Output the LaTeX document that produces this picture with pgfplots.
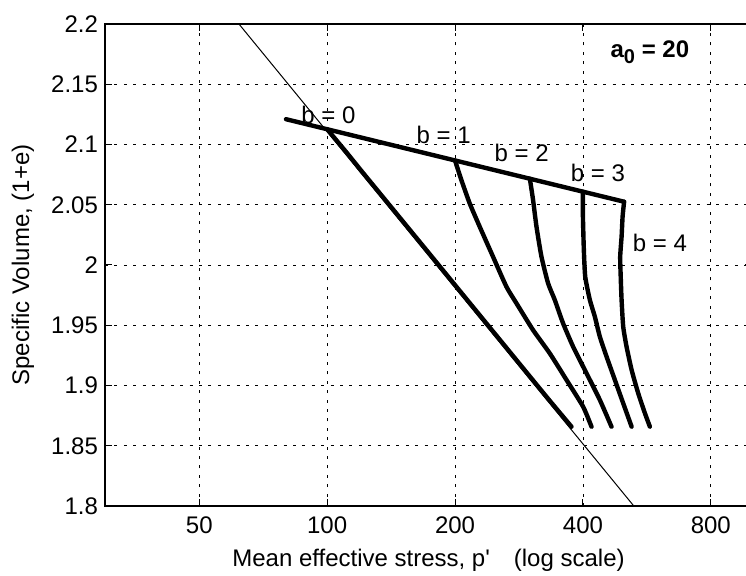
\documentclass[border=0pt]{standalone}
\usepackage{pgfplots}
\pgfplotsset{compat=1.18}
\usepackage{fontspec}
\setmainfont{Liberation Sans}[Ligatures=TeXOff]

\pgfplotsset{bcurve/.style={black, line width=2.2pt, line join=round, line cap=round, smooth, tension=0.35}}

\begin{document}
\begin{tikzpicture}
\begin{axis}[
  name=ax,
  scale only axis,
  width=323.5pt, height=241pt,
  xmode=log,
  xmin=30, xmax=1000,
  ymin=1.8, ymax=2.2,
  xtick={50,100,200,400,800},
  xticklabels={50,100,200,400,800},
  ytick={1.8,1.85,1.9,1.95,2,2.05,2.1,2.15,2.2},
  yticklabels={1.8,1.85,1.9,1.95,2,2.05,2.1,2.15,2.2},
  minor xtick={},
  grid=major,
  major grid style={black, line width=0.4pt, dash pattern=on 1.5pt off 3.2pt},
  tick align=inside,
  major tick length=3.5pt,
  tick style={black, line width=0.5pt},
  axis line style={black, line width=0.6pt},
  ticklabel style={font=\fontsize{12}{14}\selectfont},
  xticklabel style={yshift=-2pt},
  label style={font=\fontsize{12}{14}\selectfont},
  xlabel={Mean effective stress, p'\hspace{1em}(log scale)},
  ylabel={Specific Volume, (1+e)},
  xlabel style={at={(axis description cs:0.5,-0.112)}, anchor=center},
  ylabel style={at={(axis description cs:-0.127,0.5)}, anchor=center},
]
\coordinate (O) at (rel axis cs:0,0);

% normal consolidation line (thin)
\addplot[black, line width=0.5pt] coordinates {(62,2.2) (527,1.8)};

% upper reference line
\addplot[black, line width=2.2pt, line cap=round] coordinates {(80,2.121) (500,2.0525)};

% b = 0
\addplot[bcurve] coordinates {
  (100,2.1127) (111,2.0935) (121.1,2.077) (134.1,2.058) (152.5,2.034)
  (173.9,2.0095) (196.1,1.987) (235.2,1.953) (266,1.930) (296.8,1.9095)
  (333.9,1.8875) (376,1.8658)};
% b = 1
\addplot[bcurve] coordinates {
  (200,2.0867) (207,2.0705) (216.5,2.0512) (228.6,2.0318) (245.7,2.0069)
  (264.2,1.982) (279,1.9682) (305.3,1.946) (334.2,1.9267) (366,1.9046)
  (400.4,1.8824) (419,1.8658)};
% b = 2
\addplot[bcurve] coordinates {
  (300,2.0716) (305.3,2.0539) (311,2.0318) (319.5,2.0069) (331.2,1.9848)
  (343.4,1.971) (359.2,1.9516) (379.3,1.9322) (407.9,1.9101) (438.4,1.888)
  (467,1.8658)};
% b = 3
\addplot[bcurve] coordinates {
  (400,2.0608) (400,2.0401) (402,2.0124) (405,1.9903) (415.3,1.971)
  (426.7,1.9571) (438.4,1.9405) (454.7,1.9239) (475.6,1.9046) (497.6,1.8852)
  (520.8,1.8658)};
% b = 4
\addplot[bcurve] coordinates {
  (500,2.0525) (495.9,2.0401) (493.2,2.0235) (489.5,2.0069) (490.9,1.9903)
  (493.2,1.971) (497.6,1.9488) (506.7,1.9322) (520.8,1.9129) (539.8,1.8935)
  (559.8,1.8769) (575,1.8658)};

\begin{scope}[every node/.style={font=\fontsize{12}{14}\selectfont, inner sep=0pt}]
\node at (axis cs:100.7,2.1245) {b = 0};
\node at (axis cs:188,2.1079) {b = 1};
\node at (axis cs:287,2.093) {b = 2};
\node at (axis cs:433.7,2.0763) {b = 3};
\node at (axis cs:607,2.0183) {b = 4};
\node[font=\bfseries\fontsize{12}{14}\selectfont] at (axis cs:575,2.1768)
  {a\raisebox{-0.5ex}{\fontsize{10}{10}\selectfont 0} = 20};
\end{scope}
\end{axis}
\pgfresetboundingbox
\useasboundingbox ([shift={(-52.5pt,-35pt)}]O) rectangle ([shift={(320.5pt,253pt)}]O);
\end{tikzpicture}
\end{document}
